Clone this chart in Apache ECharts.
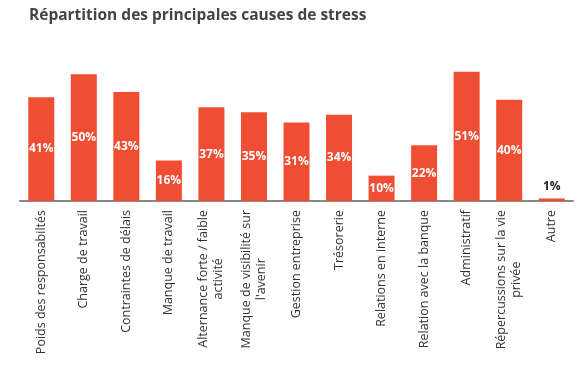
<!DOCTYPE html>
<html>
<head>
<meta charset="utf-8">
<script src="https://cdn.jsdelivr.net/npm/echarts@6/dist/echarts.min.js"></script>
<style>html,body{margin:0;padding:0;background:#fff}#c{width:577px;height:368px}</style>
</head>
<body>
<div id="c"></div>
<script>
var categories = [
  "Poids des responsabiltés",
  "Charge de travail",
  "Contraintes de délais",
  "Manque de travail",
  "Alternance forte / faible\nactivité",
  "Manque de visibilité sur\nl'avenir",
  "Gestion entreprise",
  "Trésorerie",
  "Relations en interne",
  "Relation avec la banque",
  "Administratif",
  "Répercussions sur la vie\nprivée",
  "Autre"
];
var values = [41, 50, 43, 16, 37, 35, 31, 34, 10, 22, 51, 40, 1];

var chart = echarts.init(document.getElementById('c'), null, {renderer: 'canvas'});
var data = values.map(function (v, i) {
  var item = {value: v};
  if (v < 5) {
    item.label = {position: 'top', color: '#222', distance: 6};
  }
  return item;
});
chart.setOption({
  animation: false,
  title: {
    text: 'Répartition des principales causes de stress',
    left: 24, top: 3,
    textStyle: {fontFamily: 'Open Sans', fontWeight: 'bold', fontSize: 15.5, color: '#444'}
  },
  grid: {left: 20, right: 4, top: 49, bottom: 167, containLabel: false},
  xAxis: {
    type: 'category',
    data: categories,
    axisLine: {lineStyle: {color: '#888', width: 2}},
    axisTick: {length: 4, lineStyle: {color: '#888', width: 1.5}},
    axisLabel: {
      interval: 0,
      rotate: 90,
      margin: 9,
      fontFamily: 'Open Sans',
      fontSize: 12.5,
      color: '#333',
      lineHeight: 15,
      formatter: function (v) {
        return v.split('\n').map(function (s) { return '{a|' + s + '}'; }).join('\n');
      },
      rich: {a: {align: 'center', fontFamily: 'Open Sans', fontSize: 12.5, color: '#333', lineHeight: 15}}
    }
  },
  yAxis: {
    type: 'value', min: 0, max: 60, show: false,
    splitLine: {show: false}
  },
  series: [{
    type: 'bar',
    data: data,
    barWidth: 26,
    itemStyle: {color: '#EF4E33'},
    label: {
      show: true,
      position: 'inside',
      formatter: '{c}%',
      fontFamily: 'Open Sans',
      fontWeight: 'bold',
      fontSize: 12,
      color: '#fff'
    }
  }]
});
</script>
</body>
</html>
